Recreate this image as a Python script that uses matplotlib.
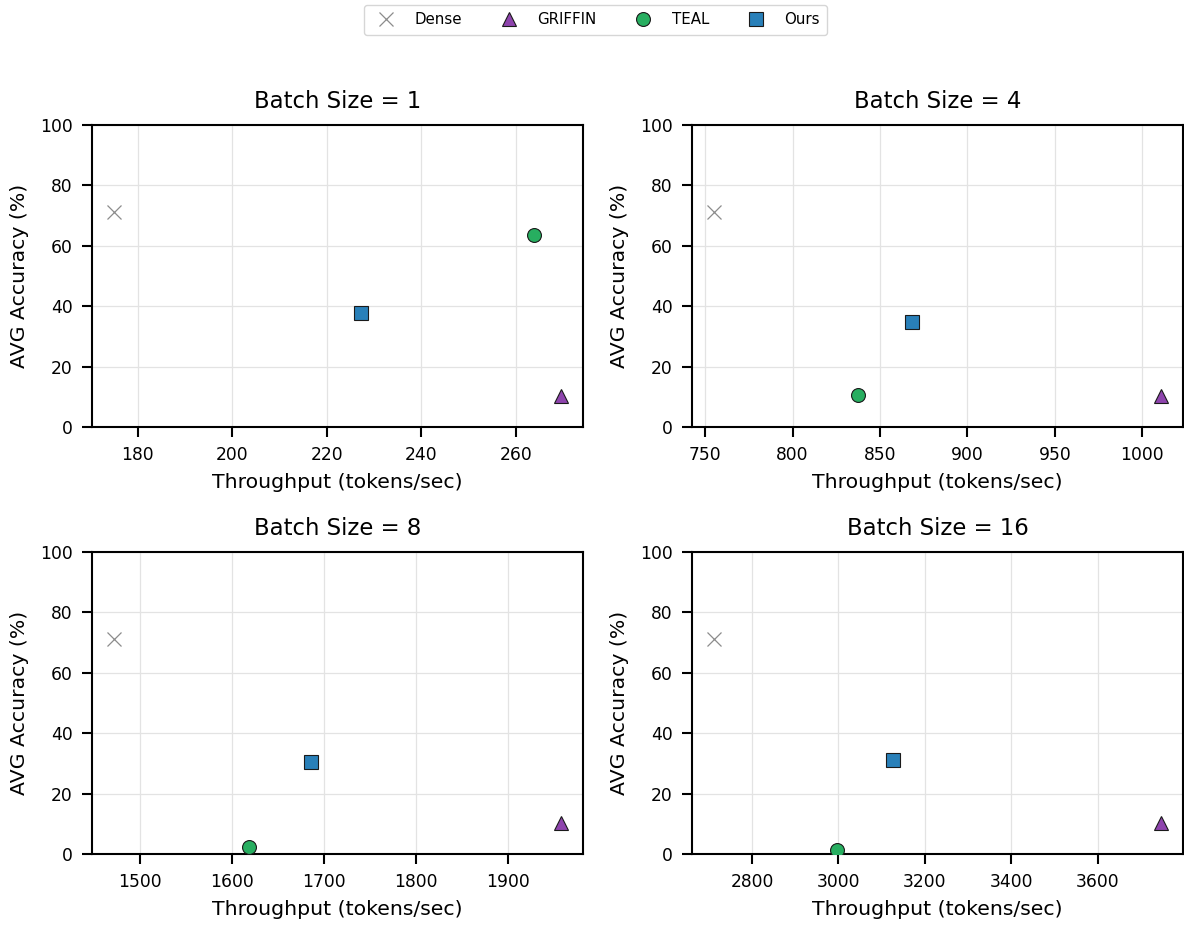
import matplotlib
matplotlib.use("Agg")
import matplotlib.pyplot as plt
from matplotlib.lines import Line2D

batch_sizes = [1, 4, 8, 16]
methods = ["Dense", "GRIFFIN", "TEAL", "Ours"]

# throughput (tokens/sec) per batch size, order: Dense, GRIFFIN, TEAL, Ours
throughput = {
    1: [175.0, 269.5, 263.8, 227.3],
    4: [755.3, 1010.5, 837.2, 868.1],
    8: [1471.7, 1957.0, 1618.4, 1685.9],
    16: [2713.0, 3745.0, 2997.7, 3125.4],
}
# average accuracy (%)
accuracy = {
    1: [71.3, 10.4, 63.6, 37.7],
    4: [71.3, 10.4, 10.5, 34.7],
    8: [71.3, 10.4, 2.4, 30.4],
    16: [71.3, 10.4, 1.4, 31.2],
}

markers = {"Dense": "x", "GRIFFIN": "^", "TEAL": "o", "Ours": "s"}
colors = {"Dense": "#8c8c8c", "GRIFFIN": "#8e44ad", "TEAL": "#27ae60", "Ours": "#2980b9"}

fig = plt.figure(figsize=(11.84, 9.25), dpi=100)
W, H = 1184, 925
boxes = [(92, 125), (692, 125), (92, 552), (692, 552)]
aw, ah = 491, 302


def marker_style(m):
    if m == "Dense":
        return dict(marker="x", markersize=10, color=colors[m], markeredgewidth=0.9)
    return dict(marker=markers[m], markersize=10, markerfacecolor=colors[m],
                markeredgecolor="#1a1a1a", markeredgewidth=0.8)


for bs, (x0, y0) in zip(batch_sizes, boxes):
    ax = fig.add_axes([x0 / W, 1 - (y0 + ah) / H, aw / W, ah / H])
    for i, m in enumerate(methods):
        ax.plot(throughput[bs][i], accuracy[bs][i], linestyle="none", zorder=3,
                **marker_style(m))
    ax.set_ylim(0, 100)
    ax.set_title(f"Batch Size = {bs}", fontsize=16.4, pad=12)
    ax.set_xlabel("Throughput (tokens/sec)", fontsize=14.7, labelpad=6)
    ax.set_ylabel("AVG Accuracy (%)", fontsize=14.7, labelpad=8)
    ax.grid(True, color="#e3e3e3", linewidth=0.9)
    ax.set_axisbelow(True)
    for spine in ax.spines.values():
        spine.set_linewidth(1.5)
    ax.tick_params(labelsize=12.3, width=1.5, length=7, pad=7)

handles = [Line2D([], [], linestyle="none", **marker_style(m)) for m in methods]
fig.legend(handles, methods, loc="upper center", bbox_to_anchor=(0.503, 1 - 5 / H),
           ncol=4, fontsize=10.8, frameon=True, edgecolor="#cccccc", fancybox=True,
           columnspacing=2.1, handletextpad=0.9, borderpad=0.5, borderaxespad=0)

fig.savefig("out.png", dpi=100)
